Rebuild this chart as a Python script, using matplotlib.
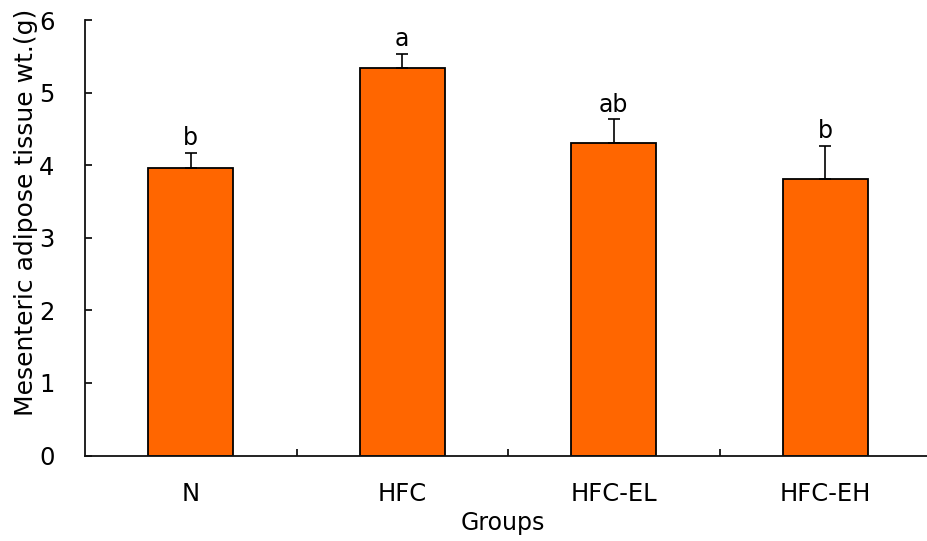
import matplotlib
matplotlib.use("Agg")
import matplotlib.pyplot as plt

groups = ['N', 'HFC', 'HFC-EL', 'HFC-EH']
weights = [3.96, 5.34, 4.31, 3.81]
errors = [0.21, 0.19, 0.32, 0.46]
letters = ['b', 'a', 'ab', 'b']

plt.rcParams['font.family'] = ['DejaVu Sans']

fig = plt.figure(figsize=(9.28, 5.41), dpi=100)
ax = fig.add_axes([85/928, 85.5/541, 846/928, 435.5/541])

x = list(range(len(groups)))
ax.bar(x, weights, width=0.40, color='#FF6600', edgecolor='black', linewidth=1.3, zorder=2)
ax.errorbar(x, weights, yerr=[[0]*len(errors), errors], fmt='none', ecolor='black',
            elinewidth=1.2, capsize=4.5, capthick=1.2, zorder=3)

# significance letters above the error bars
for xi, w, e, lab in zip(x, weights, errors, letters):
    ax.annotate(lab, (xi, w + e), xytext=(0, 2), textcoords='offset points',
                ha='center', va='bottom', fontsize=17)

ax.set_xlim(-0.5, 3.5)
ax.set_ylim(0, 6)
ax.set_yticks(range(7))
ax.set_xticks(x)
ax.set_xticklabels(groups)
ax.set_xticks([0.5, 1.5, 2.5], minor=True)
ax.tick_params(axis='x', which='major', length=0, pad=19, labelsize=17.5)
ax.tick_params(axis='x', which='minor', direction='in', length=5, width=1.2)
ax.tick_params(axis='y', direction='in', length=5, width=1.2, pad=22, labelsize=17.5)

for s in ['top', 'right']:
    ax.spines[s].set_visible(False)
for s in ['left', 'bottom']:
    ax.spines[s].set_linewidth(1.3)
    ax.spines[s].set_color('#111111')

ax.set_ylabel('Mesenteric adipose tissue wt.(g)', fontsize=18)
ax.yaxis.set_label_coords(-0.055, 0.559)
ax.set_xlabel('Groups', fontsize=17)
ax.xaxis.set_label_coords(0.494, -0.128)

fig.savefig('out.png', dpi=100)
